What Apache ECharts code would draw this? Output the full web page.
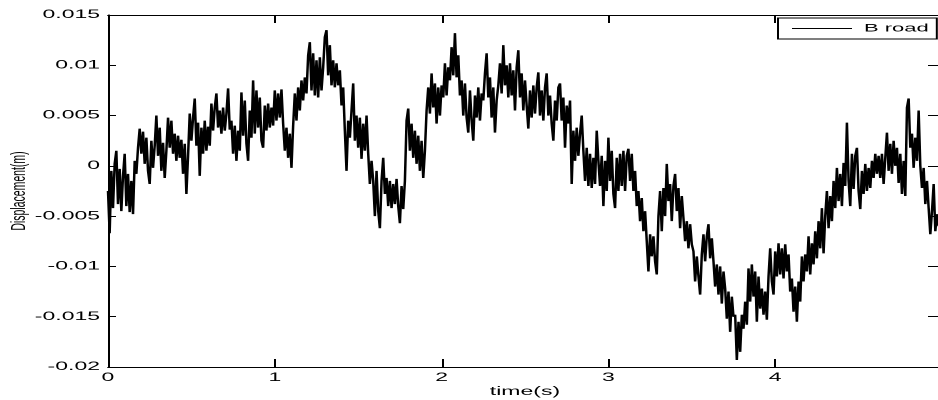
<!DOCTYPE html>
<html>
<head>
<meta charset="utf-8">
<script src="https://cdn.jsdelivr.net/npm/echarts@6/dist/echarts.min.js"></script>
<style>
html,body{margin:0;padding:0;background:#fff;}
#wrap{width:938px;height:400px;overflow:hidden;position:relative;background:#fff;}
/* the reference figure is a MATLAB plot stretched 2x horizontally; reproduce that stretch */
#chart{width:469px;height:400px;transform:scaleX(2);transform-origin:0 0;}
</style>
</head>
<body>
<div id="wrap"><div id="chart"></div></div>
<script>
// ---- data ----
const seriesName = 'B road';
const xAxisTitle = 'time(s)';
const yAxisTitle = 'Displacement(m)';
const xTicks = [0, 1, 2, 3, 4, 5];
const yTicks = [-0.02, -0.015, -0.01, -0.005, 0, 0.005, 0.01, 0.015];
const sampleInterval = 0.01; // s, uniform sampling

// displacement (m), t = 0.00 .. 0.99 s
const disp0 = [
-0.0025,-0.0067,-0.0005,-0.0042,0.0002,0.0015,-0.0038,-0.0003,-0.0045,-0.0010,
0.0012,-0.0040,-0.0008,-0.0046,-0.0015,-0.0048,0.0005,-0.0008,0.0018,0.0037,
0.0012,0.0034,0.0002,0.0028,-0.0005,-0.0018,0.0025,-0.0002,0.0020,0.0050,
0.0010,0.0038,-0.0005,0.0023,-0.0012,0.0015,0.0048,0.0018,0.0045,0.0012,
0.0032,0.0005,0.0030,0.0008,0.0026,-0.0008,0.0022,-0.0028,0.0010,0.0052,
0.0025,0.0048,0.0067,0.0020,0.0043,-0.0010,0.0038,0.0012,0.0045,0.0015,
0.0039,0.0020,0.0062,0.0035,0.0058,0.0072,0.0038,0.0055,0.0032,0.0058,
0.0035,0.0052,0.0077,0.0036,0.0045,0.0012,0.0040,0.0005,0.0035,0.0015,
0.0073,0.0030,0.0065,0.0022,0.0005,0.0055,0.0028,0.0085,0.0032,0.0075,
0.0038,0.0068,0.0025,0.0018,0.0060,0.0035,0.0062,0.0038,0.0058,0.0040
];
// t = 1.00 .. 1.99 s
const disp1 = [
0.0075,0.0045,0.0072,0.0048,0.0076,0.0042,0.0015,0.0038,0.0008,0.0032,
-0.0002,0.0040,0.0072,0.0045,0.0078,0.0055,0.0085,0.0065,0.0088,0.0072,
0.0110,0.0123,0.0075,0.0112,0.0070,0.0105,0.0068,0.0108,0.0075,0.0098,
0.0128,0.0135,0.0090,0.0120,0.0080,0.0105,0.0078,0.0102,0.0080,0.0095,
0.0060,0.0078,0.0035,-0.0005,0.0045,0.0028,0.0055,0.0082,0.0025,0.0050,
0.0018,0.0048,0.0007,0.0042,0.0015,0.0050,0.0012,-0.0018,0.0005,-0.0015,
-0.0050,-0.0005,-0.0045,-0.0062,-0.0015,0.0008,-0.0028,-0.0012,-0.0040,-0.0015,
-0.0042,-0.0018,-0.0038,-0.0013,-0.0040,-0.0057,-0.0020,-0.0043,-0.0015,0.0045,
0.0057,0.0015,0.0042,0.0008,0.0035,0.0002,0.0030,-0.0005,0.0025,-0.0012,
0.0015,0.0055,0.0078,0.0052,0.0092,0.0058,0.0082,0.0042,0.0078,0.0050
];
// t = 2.00 .. 2.99 s
const disp2 = [
0.0080,0.0068,0.0102,0.0070,0.0098,0.0085,0.0118,0.0090,0.0132,0.0088,
0.0110,0.0070,0.0085,0.0050,0.0082,0.0048,0.0033,0.0075,0.0045,0.0025,
0.0070,0.0048,0.0078,0.0045,0.0072,0.0065,0.0092,0.0112,0.0068,0.0088,
0.0048,0.0078,0.0033,0.0065,0.0080,0.0102,0.0072,0.0120,0.0080,0.0100,
0.0068,0.0102,0.0070,0.0095,0.0055,0.0098,0.0115,0.0068,0.0092,0.0055,
0.0085,0.0060,0.0037,0.0075,0.0048,0.0080,0.0052,0.0078,0.0093,0.0050,
0.0075,0.0045,0.0078,0.0092,0.0050,0.0070,0.0042,0.0025,0.0065,0.0045,
0.0078,0.0082,0.0045,0.0068,0.0018,0.0060,0.0042,0.0065,-0.0018,0.0035,
0.0005,0.0038,0.0010,0.0032,0.0050,0.0015,-0.0015,0.0018,-0.0020,0.0012,
-0.0022,0.0008,-0.0018,0.0035,0.0005,-0.0020,0.0010,-0.0040,0.0005,-0.0025
];
// t = 3.00 .. 3.99 s
const disp3 = [
0.0028,-0.0015,0.0015,-0.0028,-0.0042,0.0008,-0.0025,0.0012,-0.0020,0.0015,
-0.0025,0.0010,0.0017,-0.0015,0.0012,-0.0025,-0.0005,-0.0040,-0.0025,-0.0055,
-0.0032,-0.0065,-0.0045,-0.0075,-0.0105,-0.0068,-0.0090,-0.0070,-0.0095,-0.0108,
-0.0050,-0.0025,-0.0065,-0.0022,-0.0050,0.0002,-0.0035,-0.0018,-0.0055,-0.0020,
-0.0008,-0.0045,-0.0022,-0.0062,-0.0030,-0.0052,-0.0075,-0.0055,-0.0082,-0.0058,
-0.0078,-0.0085,-0.0115,-0.0090,-0.0110,-0.0128,-0.0088,-0.0068,-0.0095,-0.0070,
-0.0058,-0.0092,-0.0072,-0.0095,-0.0120,-0.0098,-0.0128,-0.0100,-0.0137,-0.0105,
-0.0122,-0.0152,-0.0125,-0.0165,-0.0130,-0.0150,-0.0148,-0.0193,-0.0155,-0.0185,
-0.0148,-0.0162,-0.0135,-0.0158,-0.0102,-0.0135,-0.0098,-0.0130,-0.0105,-0.0155,
-0.0110,-0.0142,-0.0122,-0.0148,-0.0125,-0.0153,-0.0110,-0.0082,-0.0115,-0.0128
];
// t = 4.00 .. 4.98 s
const disp4 = [
-0.0085,-0.0110,-0.0077,-0.0108,-0.0082,-0.0112,-0.0078,-0.0105,-0.0088,-0.0125,
-0.0112,-0.0145,-0.0120,-0.0155,-0.0115,-0.0135,-0.0090,-0.0115,-0.0088,-0.0105,
-0.0070,-0.0108,-0.0077,-0.0098,-0.0065,-0.0092,-0.0055,-0.0082,-0.0042,-0.0087,
-0.0050,-0.0025,-0.0062,-0.0030,-0.0055,-0.0015,-0.0042,-0.0002,-0.0035,-0.0008,
-0.0040,0.0003,-0.0020,0.0043,-0.0015,-0.0040,0.0012,-0.0023,0.0010,0.0018,
-0.0025,-0.0043,-0.0005,-0.0028,0.0002,-0.0025,-0.0002,-0.0022,0.0005,-0.0012,
0.0012,-0.0008,0.0010,-0.0012,0.0012,-0.0018,0.0008,0.0033,-0.0005,0.0022,
-0.0008,0.0025,0.0000,0.0018,-0.0017,0.0012,-0.0028,0.0005,-0.0030,0.0058,
0.0067,0.0018,0.0032,-0.0002,0.0028,0.0005,0.0055,0.0000,-0.0022,-0.0002,
-0.0038,-0.0015,-0.0042,-0.0068,-0.0045,-0.0018,-0.0065,-0.0048,-0.0060
];

// ---- build ----
const displacement = [].concat(disp0, disp1, disp2, disp3, disp4);
const points = displacement.map((v, i) => [+(i * sampleInterval).toFixed(2), v]);

const font = "'Liberation Sans', Arial, sans-serif";
const chart = echarts.init(document.getElementById('chart'), null,
  {renderer: 'canvas', devicePixelRatio: 2});

const axisCommon = {
  type: 'value',
  axisLine: {show: true, onZero: false, lineStyle: {color: '#000', width: 1}},
  splitLine: {show: false},
  minorTick: {show: false}
};
const tickStyle = (len) => ({show: true, inside: true, length: len, lineStyle: {color: '#000', width: 1}});

// note: all horizontal sizes below are in the un-stretched (half-width) space
const option = {
  animation: false,
  backgroundColor: '#fff',
  grid: {left: 54, top: 15, width: 417, height: 352, containLabel: false, outerBoundsMode: 'none'},
  legend: {
    show: true,
    data: [seriesName],
    left: 389, top: 18,
    orient: 'horizontal',
    padding: [5, 4, 5, 7],
    borderColor: '#000', borderWidth: 1, borderRadius: 0,
    backgroundColor: '#fff',
    icon: 'rect', itemWidth: 30, itemHeight: 1,
    textStyle: {color: '#000', fontSize: 11, fontFamily: font, padding: [0, 0, 0, 1]}
  },
  xAxis: [
    Object.assign({}, axisCommon, {
      position: 'bottom', min: xTicks[0], max: xTicks[xTicks.length - 1], interval: 1,
      axisTick: tickStyle(8),
      axisLabel: {show: true, color: '#000', fontSize: 11.5, fontFamily: font, margin: 5,
                  showMaxLabel: false},
      name: xAxisTitle, nameLocation: 'middle', nameGap: 19, nameMoveOverlap: false,
      nameTextStyle: {color: '#000', fontSize: 11.5, fontFamily: font}
    }),
    Object.assign({}, axisCommon, {
      position: 'top', min: xTicks[0], max: xTicks[xTicks.length - 1], interval: 1,
      axisTick: tickStyle(8),
      axisLabel: {show: false}
    })
  ],
  yAxis: [
    Object.assign({}, axisCommon, {
      position: 'left', min: yTicks[0], max: yTicks[yTicks.length - 1], interval: 0.005,
      axisTick: tickStyle(4),
      axisLabel: {show: true, color: '#000', fontSize: 11.5, fontFamily: font, margin: 4},
      name: yAxisTitle, nameLocation: 'middle', nameGap: 39, nameMoveOverlap: false,
      nameTextStyle: {color: '#000', fontSize: 10.5, fontFamily: font}
    }),
    Object.assign({}, axisCommon, {
      position: 'right', min: yTicks[0], max: yTicks[yTicks.length - 1], interval: 0.005,
      axisTick: tickStyle(7),
      axisLabel: {show: false}
    })
  ],
  series: [{
    name: seriesName,
    type: 'line',
    xAxisIndex: 0, yAxisIndex: 0,
    data: points,
    showSymbol: false,
    symbol: 'none',
    sampling: null,
    lineStyle: {color: '#000', width: 1.25, join: 'bevel', cap: 'butt'},
    itemStyle: {color: '#000'}
  }]
};
chart.setOption(option);
</script>
</body>
</html>
